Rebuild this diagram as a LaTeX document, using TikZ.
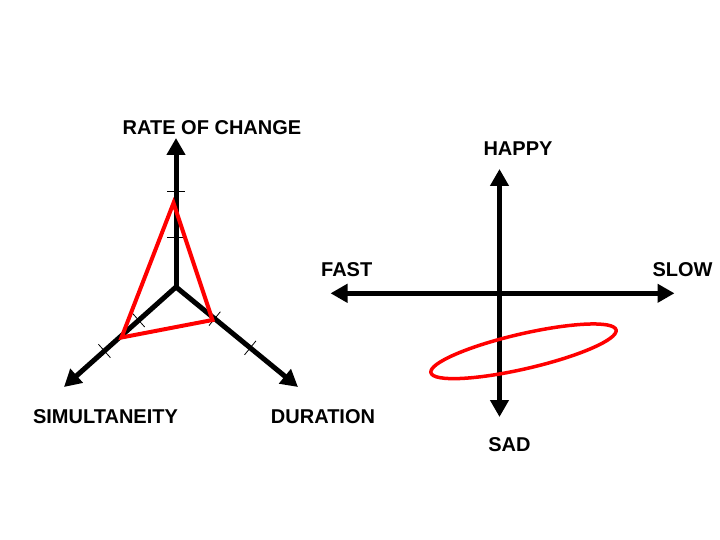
\documentclass[tikz,border=0pt]{standalone}
\usepackage{fontspec}
\setmainfont{Liberation Sans}
\usetikzlibrary{arrows.meta,calc}
\tikzset{
  axis/.style={line width=5pt, draw=black},
  tip/.style={-{Triangle[length=17pt,width=18pt]}},
  tiptwo/.style={{Triangle[length=17pt,width=18pt]}-{Triangle[length=17pt,width=18pt]}},
  tickmark/.style={line width=0.8pt, draw=black},
  redline/.style={line width=4pt, draw=red},
  lbl/.style={inner sep=0pt, font=\fontsize{20}{24}\selectfont\bfseries}
}
\begin{document}
\begin{tikzpicture}[x=1pt,y=-1pt]
\useasboundingbox (0,0) rectangle (720,540);
\fill[white] (0,0) rectangle (720,540);
% left diagram
\coordinate (O) at (176,287);
\coordinate (T) at (176,138);
\coordinate (L) at (64,387);
\coordinate (R) at (298,387);
\draw[axis,tip] (O) -- (T);
\draw[axis,tip] (O) -- (L);
\draw[axis,tip] (O) -- (R);
\foreach \e in {T,L,R}{
  \foreach \d in {50,96}{
    \coordinate (tk) at ($(O)!\d pt!(\e)$);
    \draw[tickmark] ($(tk)!9pt!90:(\e)$) -- ($(tk)!9pt!-90:(\e)$);
  }
}
\coordinate (rt) at (173.5,203);
\coordinate (rl) at (121.5,337.5);
\coordinate (rr) at (212.5,320);
\draw[redline] (rt) -- (rr) -- (rl) -- cycle;
\node[lbl] (rate) at (212,128) {RATE OF CHANGE};
\node[lbl] (sim) at (105.5,416.5) {SIMULTANEITY};
\node[lbl] (dur) at (323,416.5) {DURATION};
% right diagram
\coordinate (C) at (499.5,293.3);
\coordinate (U) at (499.5,169);
\coordinate (D) at (499.5,417);
\coordinate (W) at (330.5,293.3);
\coordinate (E) at (674.5,293.3);
\draw[axis,tiptwo] (W) -- (E);
\draw[axis,tiptwo] (U) -- (D);
\draw[line width=3.5pt, red, rotate around={13:(523.5,351.3)}] (523.5,351.3) ellipse [x radius=95, y radius=17.5];
\node[lbl] (happy) at (518,149) {HAPPY};
\node[lbl] (sad) at (509.5,445) {SAD};
\node[lbl] (fast) at (346.7,269.5) {FAST};
\node[lbl] (slow) at (682.5,269.5) {SLOW};
\end{tikzpicture}
\end{document}
